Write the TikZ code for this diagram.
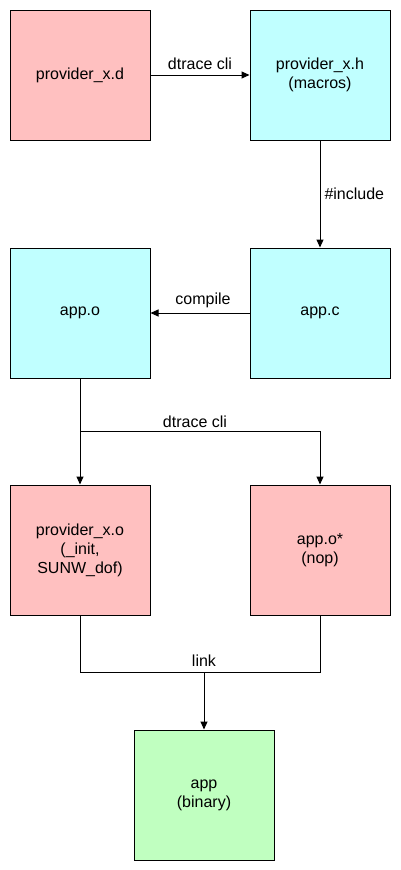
\documentclass[tikz,border=0pt]{standalone}
\usepackage{fontspec}
\setmainfont{Liberation Sans}
\usetikzlibrary{arrows.meta}
\definecolor{pinkbox}{HTML}{FFC0C0}
\definecolor{cyanbox}{HTML}{C0FFFF}
\definecolor{greenbox}{HTML}{C0FFC0}
\begin{document}
\begin{tikzpicture}[x=1pt,y=-1pt,
  box/.style={draw=black,line width=1pt,minimum width=140pt,minimum height=130pt,inner sep=0pt,align=center,font=\fontsize{16}{19}\selectfont},
  conn/.style={line width=1pt,draw=black},
  arr/.style={conn,-{Triangle[length=8pt,width=7pt]}},
  lbl/.style={font=\fontsize{16}{19}\selectfont,inner sep=2pt}]
\useasboundingbox (0,0) rectangle (400,870);
\node[box,fill=pinkbox] (pd) at (80,75) {provider\_x.d};
\node[box,fill=cyanbox] (ph) at (320,75) {provider\_x.h\\(macros)};
\node[box,fill=cyanbox] (appc) at (320,313) {app.c};
\node[box,fill=cyanbox] (appo) at (80,313) {app.o};
\node[box,fill=pinkbox] (pxo) at (80,550) {provider\_x.o\\(\_init,\\SUNW\_dof)};
\node[box,fill=pinkbox] (aps) at (320,550) {app.o*\\(nop)};
\node[box,fill=greenbox] (app) at (204,795) {app\\(binary)};
\draw[arr] (pd.east) -- node[lbl,above,yshift=3pt] {dtrace cli} (ph.west);
\draw[arr] (ph.south) -- node[lbl,right,xshift=2pt] {\#include} (appc.north);
\draw[arr] (appc.west) -- node[lbl,above,xshift=3pt,yshift=3pt] {compile} (appo.east);
\coordinate (br) at (80,431);
\coordinate (brr) at (320,431);
\draw[arr] (appo.south) -- (pxo.north);
\draw[arr] (br) -- (brr) -- (aps.north);
\node[lbl,above,yshift=1pt] (dl) at (195,431) {dtrace cli};
\coordinate (ll) at (80,672);
\coordinate (lr) at (320,672);
\coordinate (lm) at (204,672);
\draw[conn] (pxo.south) -- (ll) -- (lr) -- (aps.south);
\draw[arr] (lm) -- (app.north);
\node[lbl,above,yshift=3pt] (lk) at (204,672) {link};
\end{tikzpicture}
\end{document}
